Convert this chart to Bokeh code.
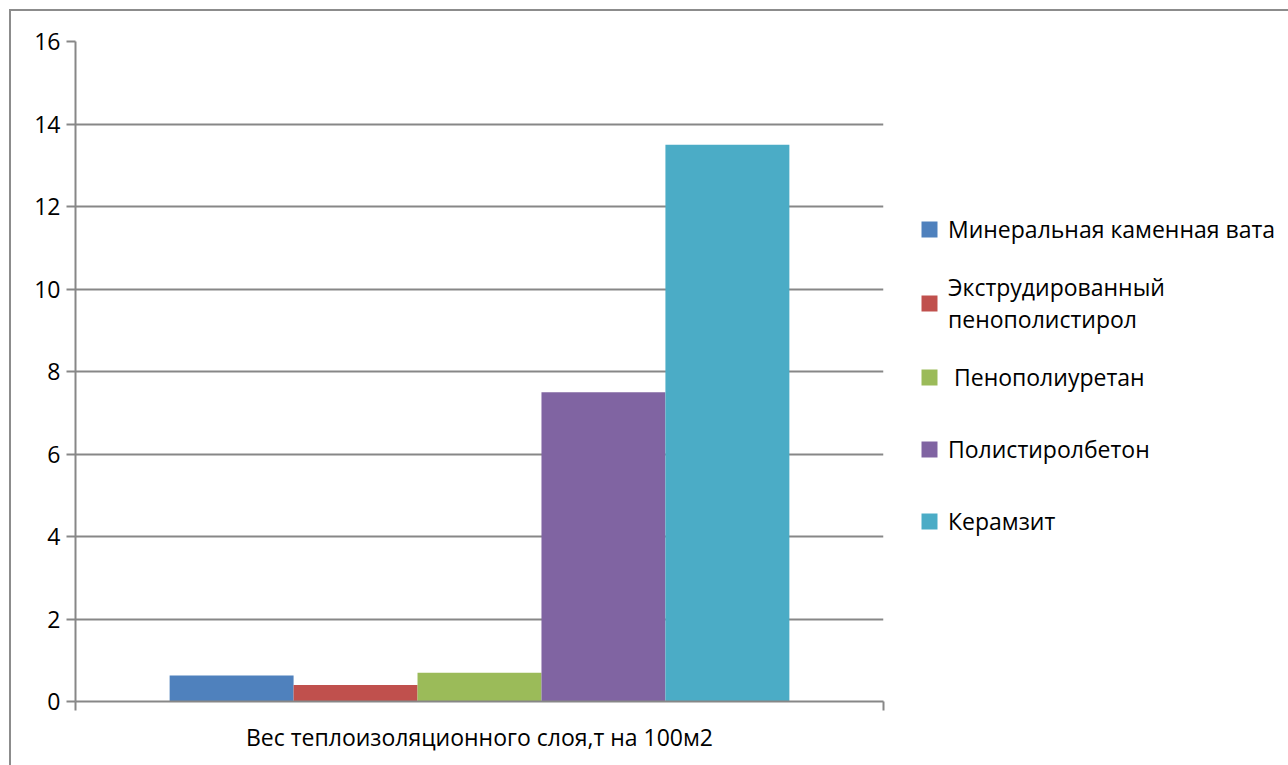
from bokeh.plotting import figure
from bokeh.models import ColumnDataSource, FixedTicker, Legend, LegendItem, Range1d
from bokeh.embed import file_html
from bokeh.resources import INLINE

# ---- data ----
materials = ["Минеральная каменная вата", "Экструдированный\nпенополистирол",
             " Пенополиуретан", "Полистиролбетон", "Керамзит"]
weights = [0.63, 0.4, 0.7, 7.5, 13.5]
colors = ["#4F81BD", "#C0504D", "#9BBB59", "#8064A2", "#4BACC6"]
category = "Вес теплоизоляционного слоя,т на 100м2"
y_ticks = [0, 2, 4, 6, 8, 10, 12, 14, 16]

FONT = "Open Sans"
GREY = "#878787"

p = figure(frame_width=808, frame_height=660, output_backend="svg", toolbar_location=None,
           x_range=Range1d(0, 1), y_range=Range1d(0, 16),
           min_border_left=64, min_border_right=0, min_border_top=30, min_border_bottom=64)
p.margin = (9, 0, 0, 9)
p.styles = {"border-top": "2px solid #8c8c8c", "border-left": "2px solid #8c8c8c"}
p.outline_line_color = None

n = len(materials)
group = 0.767
bw = group / n
items = []
for i, (m, v, c) in enumerate(zip(materials, weights, colors)):
    xc = 0.5 + (i - (n - 1) / 2) * bw
    src = ColumnDataSource(dict(x=[xc], top=[v]))
    r = p.vbar(x="x", top="top", bottom=0, width=bw, source=src,
               fill_color=c, line_color=None)
    items.append(LegendItem(label=m, renderers=[r]))

# y axis
p.yaxis.ticker = FixedTicker(ticks=y_ticks)
p.yaxis.axis_line_color = GREY
p.yaxis.axis_line_width = 2
p.yaxis.major_tick_line_color = GREY
p.yaxis.major_tick_line_width = 2
p.yaxis.major_tick_out = 9
p.yaxis.major_tick_in = 0
p.yaxis.minor_tick_line_color = None
p.yaxis.major_label_text_font = FONT
p.yaxis.major_label_text_font_size = "23px"
p.yaxis.major_label_text_color = "#000000"
p.yaxis.major_label_standoff = 6

# x axis
p.xaxis.ticker = FixedTicker(ticks=[0.5], minor_ticks=[0, 1])
p.xaxis.major_label_overrides = {0.5: category}
p.xaxis.axis_line_color = GREY
p.xaxis.axis_line_width = 2
p.xaxis.major_tick_line_color = None
p.xaxis.major_tick_out = 0
p.xaxis.major_tick_in = 0
p.xaxis.minor_tick_line_color = GREY
p.xaxis.minor_tick_line_width = 2
p.xaxis.minor_tick_out = 9
p.xaxis.minor_tick_in = 0
p.xaxis.major_label_text_font = FONT
p.xaxis.major_label_text_font_size = "23px"
p.xaxis.major_label_text_color = "#000000"
p.xaxis.major_label_standoff = 10

p.xgrid.grid_line_color = None
p.ygrid.grid_line_color = GREY
p.ygrid.grid_line_width = 2

legend = Legend(items=items, location=(36, 150), orientation="vertical",
                padding=0, margin=0, spacing=12, border_line_color=None,
                background_fill_alpha=0, glyph_width=20, glyph_height=20,
                label_standoff=9, label_height=60,
                label_text_font=FONT, label_text_font_size="23px",
                label_text_color="#000000", label_text_line_height=1.4)
p.add_layout(legend, "right")

open("out.html", "w").write(file_html(p, INLINE))
